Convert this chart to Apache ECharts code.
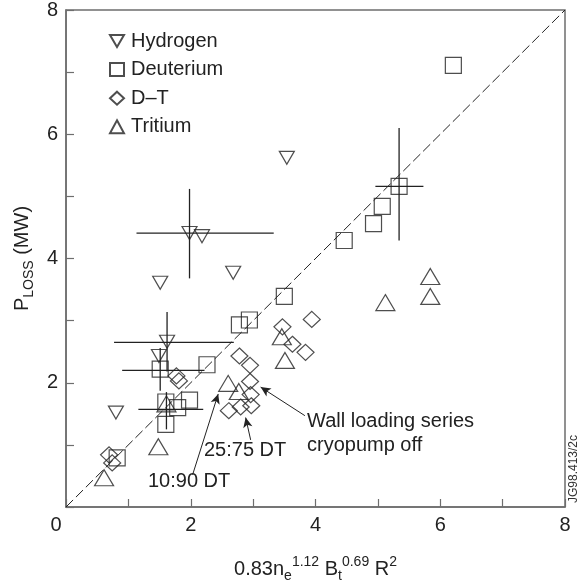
<!DOCTYPE html>
<html>
<head>
<meta charset="utf-8">
<script src="https://cdn.jsdelivr.net/npm/echarts@6/dist/echarts.min.js"></script>
<style>
  html, body { margin: 0; padding: 0; background: #fff; }
  #chart { width: 585px; height: 588px; }
</style>
</head>
<body>
<div id="chart"></div>
<script>
// points, [x, Ploss]
const hydrogen = [
  [3.54, 5.62], [1.98, 4.41], [2.18, 4.36], [2.68, 3.77],
  [1.51, 3.61], [1.62, 2.66], [1.49, 2.43], [0.80, 1.52]
]
const deuterium = [
  [6.21, 7.11], [5.34, 5.16], [5.07, 4.84], [4.93, 4.56], [4.46, 4.29],
  [3.50, 3.39], [2.94, 3.01], [2.78, 2.93], [2.26, 2.29], [1.51, 2.22],
  [1.60, 1.69], [1.79, 1.60], [1.98, 1.72], [1.60, 1.33], [0.82, 0.79]
]
const dt = [
  [3.94, 3.02], [3.47, 2.90], [3.63, 2.62], [3.84, 2.49], [2.78, 2.43],
  [2.95, 2.28], [1.77, 2.11], [1.81, 2.03], [2.95, 2.02], [2.96, 1.81],
  [2.97, 1.63], [2.80, 1.61], [2.61, 1.55], [0.69, 0.84], [0.74, 0.71]
]
const tritium = [
  [5.84, 3.71], [5.84, 3.39], [5.12, 3.29], [3.46, 2.74], [3.51, 2.36],
  [2.60, 1.99], [2.77, 1.86], [1.61, 1.66], [1.48, 0.97], [0.61, 0.47]
]
// [x, y, xLow, xHigh, yLow, yHigh]
const errorBars = [
  [1.98, 4.41, 1.13, 3.33, 3.68, 5.12],
  [1.62, 2.65, 0.77, 2.69, 2.18, 3.14],
  [1.51, 2.20, 0.90, 2.22, 1.87, 2.56],
  [1.61, 1.57, 1.16, 2.20, 1.25, 1.85],
  [5.34, 5.16, 4.96, 5.73, 4.29, 6.10]
]
const unityLine = [[0, 0], [8, 8]]
// arrows [from, to]
const arrows = [
  [[3.83, 1.47], [3.12, 1.93]],
  [[2.96, 1.08], [2.88, 1.44]],
  [[2.03, 0.52], [2.44, 1.82]]
]
const tickLabels = [0, 2, 4, 6, 8]

const font = 'Liberation Sans, Arial, sans-serif'
const ink = '#222'
const downTriangle = 'path://M0,0L20,0L10,17z'

const markerSeries = (name, data, symbol, size) => ({
  name,
  type: 'scatter',
  data,
  symbol,
  symbolSize: size,
  itemStyle: { color: 'transparent', borderColor: ink, borderWidth: 1.2 },
  emphasis: { disabled: true },
  z: 5
})

const axisBase = {
  type: 'value',
  min: 0,
  max: 8,
  interval: 1,
  axisLine: { show: true, lineStyle: { color: '#6e6e6e', width: 1.5 } },
  axisTick: { show: true, inside: true, length: 8, lineStyle: { color: '#6e6e6e', width: 1.2 } },
  splitLine: { show: false }
}

const chart = echarts.init(document.getElementById('chart'))
chart.setOption({
  animation: false,
  textStyle: { fontFamily: font },
  grid: {
    left: 60, right: 20, top: 3, bottom: 80,
    show: true, borderColor: '#6e6e6e', borderWidth: 1.5
  },
  legend: {
    orient: 'vertical',
    left: 104,
    top: 26,
    itemWidth: 14,
    itemHeight: 13,
    itemGap: 8.6,
    textStyle: { fontSize: 20, color: ink, lineHeight: 20, padding: [0, 0, 0, 2] },
    data: ['Hydrogen', 'Deuterium', 'D\u2013T', 'Tritium']
  },
  xAxis: {
    ...axisBase,
    name: '0.83n{sub|e}{sup|1.12} B{sub|t}{sup|0.69} R{sup|2}',
    nameLocation: 'middle',
    nameGap: 48,
    nameTextStyle: {
      fontSize: 20, color: ink, lineHeight: 28,
      rich: {
        sup: { fontSize: 14, lineHeight: 14, verticalAlign: 'top', color: ink },
        sub: { fontSize: 14, lineHeight: 14, verticalAlign: 'bottom', color: ink }
      }
    },
    axisLabel: {
      margin: 8, fontSize: 20, color: ink,
      formatter: v => v === 0 ? '{z|0}' : (tickLabels.includes(v) ? String(v) : ''),
      rich: { z: { fontSize: 20, color: ink, padding: [0, 20, 0, 0] } }
    }
  },
  yAxis: {
    ...axisBase,
    name: 'P{sub|LOSS} (MW)',
    nameLocation: 'middle',
    nameRotate: 90,
    nameGap: 24,
    nameTextStyle: {
      fontSize: 20, color: ink, lineHeight: 28,
      rich: { sub: { fontSize: 14, lineHeight: 14, verticalAlign: 'bottom', color: ink } }
    },
    axisLabel: {
      margin: 8, fontSize: 20, color: ink,
      formatter: v => (v !== 0 && tickLabels.includes(v)) ? String(v) : ''
    }
  },
  graphic: [
    { type: 'text', left: 307, top: 411, style: { text: 'Wall loading series', font: '20px ' + font, fill: ink } },
    { type: 'text', left: 307, top: 435, style: { text: 'cryopump off', font: '20px ' + font, fill: ink } },
    { type: 'text', left: 204, top: 440, style: { text: '25:75 DT', font: '20px ' + font, fill: ink } },
    { type: 'text', left: 148, top: 471, style: { text: '10:90 DT', font: '20px ' + font, fill: ink } },
    {
      type: 'text', x: 568, y: 503, rotation: Math.PI / 2,
      style: { text: 'JG98.413/2c', font: '12px ' + font, fill: '#333' }
    }
  ],
  series: [
    {
      type: 'line',
      data: unityLine,
      symbol: 'none',
      silent: true,
      lineStyle: { color: ink, width: 1, type: [10, 4] },
      markLine: {
        silent: true,
        symbol: ['none', 'arrow'],
        symbolSize: [7, 10],
        label: { show: false },
        lineStyle: { color: ink, width: 1, type: 'solid' },
        data: arrows.map(a => [{ coord: a[0] }, { coord: a[1] }])
      },
      z: 2
    },
    {
      type: 'custom',
      data: errorBars,
      silent: true,
      renderItem: (params, api) => {
        const x = api.value(0), y = api.value(1)
        const h0 = api.coord([api.value(2), y]), h1 = api.coord([api.value(3), y])
        const v0 = api.coord([x, api.value(4)]), v1 = api.coord([x, api.value(5)])
        const style = { stroke: ink, lineWidth: 1.3 }
        return {
          type: 'group',
          children: [
            { type: 'line', shape: { x1: h0[0], y1: h0[1], x2: h1[0], y2: h1[1] }, style },
            { type: 'line', shape: { x1: v0[0], y1: v0[1], x2: v1[0], y2: v1[1] }, style }
          ]
        }
      },
      z: 3
    },
    markerSeries('Hydrogen', hydrogen, downTriangle, [15, 13]),
    markerSeries('Deuterium', deuterium, 'rect', [16, 16]),
    markerSeries('D\u2013T', dt, 'diamond', [17, 16]),
    markerSeries('Tritium', tritium, 'triangle', [19, 16])
  ]
})
window.addEventListener('resize', () => {
  chart.resize()
})
</script>
</body>
</html>
